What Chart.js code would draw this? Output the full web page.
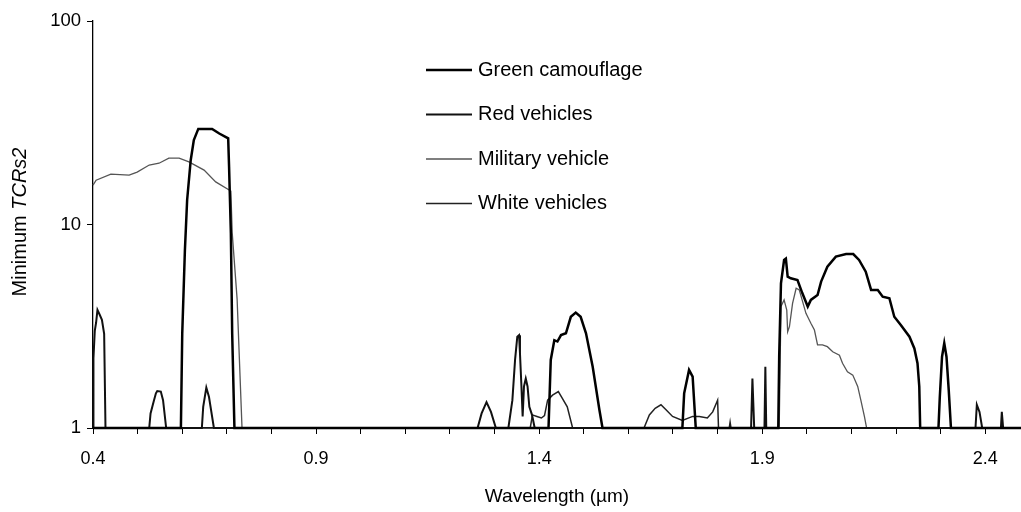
<!DOCTYPE html>
<html>
<head>
<meta charset="utf-8">
<script src="https://cdn.jsdelivr.net/npm/chart.js@4/dist/chart.umd.min.js"></script>
<style>
  html, body { margin: 0; padding: 0; background: #fff; }
  #box { width: 1021px; height: 512px; position: relative; }
</style>
</head>
<body>
<div id="box"><canvas id="a"></canvas></div>
<script>
// series (x = wavelength in µm, y = minimum TCRs2)
const camoX = [0.4, 0.597, 0.600, 0.606, 0.611, 0.619, 0.626, 0.636, 0.667, 0.683, 0.703, 0.705, 0.709, 0.712, 0.717,
  1.421, 1.426, 1.434, 1.441, 1.449, 1.46, 1.471, 1.482, 1.493, 1.505, 1.52, 1.535, 1.542,
  1.721, 1.725, 1.736, 1.744, 1.751,
  1.936, 1.938, 1.942, 1.949, 1.953, 1.957, 1.964, 1.979, 1.99, 2.002, 2.009, 2.024, 2.032, 2.046, 2.065, 2.088, 2.104,
  2.117, 2.132, 2.144, 2.159, 2.17, 2.185, 2.196, 2.211, 2.23, 2.241, 2.248, 2.252, 2.254,
  2.295, 2.298, 2.303, 2.308, 2.313, 2.318, 2.323, 2.48];
const camoY = [1, 1, 2.9, 7.5, 13.2, 20.7, 26, 29.5, 29.5, 28, 26.5, 19.2, 9.05, 2.9, 1,
  1, 2.16, 2.7, 2.66, 2.86, 2.92, 3.52, 3.69, 3.52, 2.92, 2.0, 1.23, 1,
  1, 1.48, 1.93, 1.79, 1,
  1, 2.24, 5.14, 6.69, 6.8, 5.54, 5.44, 5.34, 4.59, 3.95, 4.26, 4.5, 5.24, 6.2, 6.95, 7.16, 7.16,
  6.7, 5.86, 4.77, 4.77, 4.42, 4.34, 3.52, 3.2, 2.81, 2.46, 2.08, 1.6, 1,
  1, 1.42, 2.24, 2.61, 2.24, 1.54, 1, 1];

const redX = [0.4, 0.401, 0.404, 0.407, 0.41, 0.415, 0.42, 0.425, 0.428,
  0.526, 0.529, 0.536, 0.541, 0.544, 0.552, 0.557, 0.564,
  0.644, 0.647, 0.654, 0.66, 0.671,
  1.262, 1.271, 1.282, 1.292, 1.303,
  1.331, 1.34, 1.346, 1.351, 1.355, 1.357, 1.36, 1.363, 1.366, 1.37, 1.374, 1.378, 1.384, 1.39,
  1.875, 1.878, 1.882, 1.905, 1.907, 1.909,
  2.378, 2.381, 2.387, 2.393, 2.435, 2.437, 2.44, 2.48];
const redY = [1, 2.2, 3.0, 3.3, 3.8, 3.6, 3.4, 2.9, 1,
  1, 1.18, 1.35, 1.48, 1.52, 1.51, 1.37, 1,
  1, 1.27, 1.58, 1.42, 1,
  1, 1.18, 1.34, 1.2, 1,
  1, 1.37, 2.16, 2.81, 2.86, 2.33, 1.66, 1.14, 1.6, 1.75, 1.6, 1.27, 1.16, 1,
  1, 1.75, 1, 1, 2.0, 1,
  1, 1.3, 1.2, 1, 1, 1.2, 1, 1];

const milX = [0.4, 0.407, 0.44, 0.481, 0.499, 0.526, 0.548, 0.57, 0.593, 0.615, 0.649, 0.675, 0.709, 0.712, 0.723, 0.734,
  1.938, 1.942, 1.949, 1.955, 1.957, 1.961, 1.968, 1.976, 1.983, 1.998, 2.009, 2.017, 2.024, 2.035, 2.046, 2.058,
  2.073, 2.08, 2.091, 2.103, 2.114, 2.121, 2.129, 2.134, 2.48];
const milY = [15.6, 16.5, 17.7, 17.5, 18.1, 19.6, 20, 21.2, 21.2, 20.3, 18.5, 16.2, 14.6, 9.1, 4.3, 1,
  1, 3.95, 4.26, 3.8, 2.97, 3.15, 4.1, 4.86, 4.77, 3.66, 3.27, 3.03, 2.56, 2.56, 2.51, 2.37,
  2.28, 2.08, 1.89, 1.82, 1.6, 1.37, 1.14, 1, 1];

const whiteX = [0.4, 1.38, 1.385, 1.395, 1.405, 1.412, 1.419, 1.43, 1.443, 1.452, 1.463, 1.475,
  1.635, 1.647, 1.66, 1.673, 1.686, 1.699, 1.721, 1.744, 1.759, 1.777, 1.789, 1.8, 1.802,
  1.826, 1.828, 1.83, 2.48];
const whiteY = [1, 1, 1.16, 1.14, 1.12, 1.15, 1.37, 1.45, 1.51, 1.40, 1.27, 1,
  1, 1.16, 1.25, 1.3, 1.22, 1.14, 1.09, 1.14, 1.14, 1.12, 1.2, 1.37, 1,
  1, 1.07, 1, 1];

const seriesNames = ["Green camouflage", "Red vehicles", "Military vehicle", "White vehicles"];
const xTicks = [0.4, 0.5, 0.6, 0.7, 0.8, 0.9, 1.0, 1.1, 1.2, 1.3, 1.4, 1.5, 1.6, 1.7, 1.8, 1.9, 2.0, 2.1, 2.2, 2.3, 2.4];
const xLabels = [0.4, 0.9, 1.4, 1.9, 2.4];
const yTicks = [1, 10, 100];

const pts = (xs, ys) => xs.map((x, i) => ({ x: x, y: ys[i] }));
const FONT = "'Liberation Sans', Arial, sans-serif";

const drawExtras = {
  id: "extras",
  afterDraw(chart) {
    const ctx = chart.ctx;
    ctx.save();
    ctx.fillStyle = "#000";
    ctx.textBaseline = "middle";
    // legend
    chart.data.datasets.forEach((ds, i) => {
      const y = 70 + i * 44.5;
      ctx.strokeStyle = ds.borderColor;
      ctx.lineWidth = ds.borderWidth;
      ctx.beginPath();
      ctx.moveTo(426, y);
      ctx.lineTo(472, y);
      ctx.stroke();
      ctx.font = "20px " + FONT;
      ctx.textAlign = "left";
      ctx.fillText(ds.label, 478, y);
    });
    // x title
    ctx.font = "19px " + FONT;
    ctx.textAlign = "center";
    ctx.fillText("Wavelength (µm)", (chart.chartArea.left + chart.chartArea.right) / 2, 497);
    // y title, part of it in italics
    ctx.translate(20, 222);
    ctx.rotate(-Math.PI / 2);
    const a = "Minimum ", b = "TCRs2";
    ctx.font = "20px " + FONT;
    const wa = ctx.measureText(a).width;
    ctx.font = "italic 20px " + FONT;
    const wb = ctx.measureText(b).width;
    ctx.textAlign = "left";
    ctx.font = "20px " + FONT;
    ctx.fillText(a, -(wa + wb) / 2, 0);
    ctx.font = "italic 20px " + FONT;
    ctx.fillText(b, -(wa + wb) / 2 + wa, 0);
    ctx.restore();
  }
};

new Chart(document.querySelector("#a").getContext("2d"), {
  type: "scatter",
  data: {
    datasets: [
      { label: seriesNames[0], data: pts(camoX, camoY), borderColor: "#000", borderWidth: 2.5 },
      { label: seriesNames[1], data: pts(redX, redY), borderColor: "#111", borderWidth: 2 },
      { label: seriesNames[2], data: pts(milX, milY), borderColor: "#555", borderWidth: 1.3 },
      { label: seriesNames[3], data: pts(whiteX, whiteY), borderColor: "#222", borderWidth: 1.5 },
    ].map((d) => Object.assign(d, { showLine: true, pointRadius: 0, tension: 0, fill: false, clip: false })),
  },
  options: {
    responsive: true,
    maintainAspectRatio: false,
    animation: false,
    layout: { padding: { top: 21, right: 0, left: 0, bottom: 0 } },
    plugins: {
      legend: { display: false },
      tooltip: { enabled: false },
    },
    scales: {
      x: {
        type: "linear",
        min: 0.4,
        max: 2.48,
        afterBuildTicks: (s) => { s.ticks = xTicks.map((v) => ({ value: v })); },
        afterFit: (s) => { s.height = 84; },
        ticks: {
          autoSkip: false,
          maxRotation: 0,
          color: "#000",
          padding: 14,
          font: { family: FONT, size: 18 },
          callback: (v) => (xLabels.some((l) => Math.abs(l - v) < 1e-6) ? v.toFixed(1) : ""),
        },
        grid: { display: true, drawOnChartArea: false, drawTicks: true, tickLength: 6, color: "#000" },
        border: { color: "#000", width: 1.3 },
      },
      y: {
        type: "logarithmic",
        min: 1,
        max: 100,
        afterBuildTicks: (s) => { s.ticks = yTicks.map((v) => ({ value: v })); },
        afterFit: (s) => { s.width = 93; },
        ticks: {
          color: "#000",
          padding: 6,
          font: { family: FONT, size: 18.5 },
          callback: (v) => String(v),
        },
        grid: { display: true, drawOnChartArea: false, drawTicks: true, tickLength: 6, color: "#000" },
        border: { color: "#000", width: 1.3 },
      },
    },
  },
  plugins: [drawExtras],
});
</script>
</body>
</html>
